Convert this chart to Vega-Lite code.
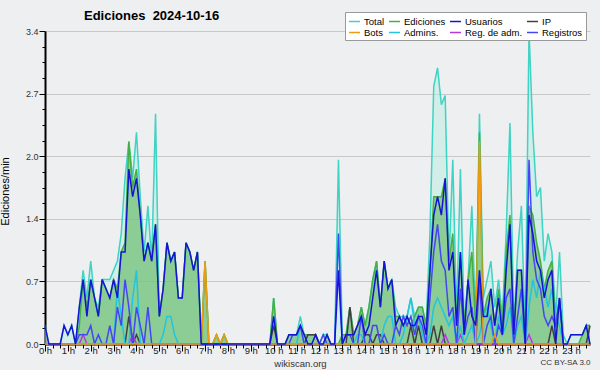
{
"$schema":"https://vega.github.io/schema/vega-lite/v6.json",
"width":545,"height":313,
"autosize":{"type":"none"},
"padding":{"left":45,"top":31,"right":10,"bottom":26},
"background":"#eeeff1",
"config":{"view":{"stroke":null},"font":"Liberation Sans"},
"title":{"text":"Ediciones\u00a0\u00a02024-10-16","anchor":"start","dx":85,"offset":-11,"fontSize":13,"fontWeight":"bold","color":"#000","font":"Liberation Sans"},
"data":{"values":[
{"m":0,"T":0.2,"E":0,"U":0.2,"R":0,"A":0,"I":0,"B":0,"M":0},
{"m":10,"T":0,"E":0,"U":0,"R":0,"A":0,"I":0,"B":0,"M":0},
{"m":20,"T":0,"E":0,"U":0,"R":0,"A":0,"I":0,"B":0,"M":0},
{"m":30,"T":0,"E":0,"U":0,"R":0,"A":0,"I":0,"B":0,"M":0},
{"m":40,"T":0,"E":0,"U":0,"R":0,"A":0,"I":0,"B":0,"M":0},
{"m":50,"T":0.2,"E":0,"U":0.2,"R":0,"A":0,"I":0,"B":0,"M":0},
{"m":60,"T":0.1,"E":0,"U":0.1,"R":0,"A":0,"I":0,"B":0,"M":0},
{"m":70,"T":0.2,"E":0,"U":0.2,"R":0,"A":0,"I":0,"B":0,"M":0},
{"m":80,"T":0,"E":0,"U":0,"R":0,"A":0,"I":0,"B":0,"M":0},
{"m":90,"T":0.4,"E":0.2,"U":0.4,"R":0.1,"A":0,"I":0,"B":0,"M":0},
{"m":100,"T":0.8,"E":0.7,"U":0.7,"R":0.1,"A":0,"I":0,"B":0,"M":0.1},
{"m":110,"T":0.5,"E":0.4,"U":0.3,"R":0.1,"A":0,"I":0,"B":0,"M":0},
{"m":120,"T":0.9,"E":0.7,"U":0.7,"R":0.2,"A":0,"I":0,"B":0,"M":0},
{"m":130,"T":0.5,"E":0.5,"U":0.5,"R":0,"A":0,"I":0,"B":0,"M":0},
{"m":140,"T":0.4,"E":0.3,"U":0.3,"R":0.1,"A":0,"I":0,"B":0,"M":0},
{"m":150,"T":0.7,"E":0.7,"U":0.7,"R":0,"A":0,"I":0,"B":0,"M":0},
{"m":160,"T":0.7,"E":0.6,"U":0.6,"R":0,"A":0,"I":0,"B":0,"M":0},
{"m":170,"T":0.7,"E":0.5,"U":0.5,"R":0.2,"A":0,"I":0,"B":0,"M":0},
{"m":180,"T":0.8,"E":0.7,"U":0.7,"R":0,"A":0,"I":0,"B":0,"M":0},
{"m":190,"T":0.9,"E":0.6,"U":0.5,"R":0.4,"A":0.6,"I":0,"B":0,"M":0},
{"m":200,"T":1.2,"E":1.0,"U":1.0,"R":0.2,"A":0.3,"I":0,"B":0,"M":0},
{"m":210,"T":1.8,"E":1.1,"U":1.0,"R":0.7,"A":0,"I":0,"B":0,"M":0},
{"m":220,"T":2.2,"E":2.2,"U":1.9,"R":0.4,"A":0,"I":0.3,"B":0,"M":0},
{"m":230,"T":1.8,"E":1.7,"U":1.6,"R":0,"A":0.5,"I":0,"B":0,"M":0.1},
{"m":240,"T":2.3,"E":1.9,"U":1.8,"R":0.4,"A":0.8,"I":0.1,"B":0,"M":0},
{"m":250,"T":1.6,"E":1.4,"U":1.4,"R":0.2,"A":0,"I":0,"B":0,"M":0},
{"m":260,"T":1.0,"E":0.9,"U":0.9,"R":0,"A":0,"I":0,"B":0,"M":0},
{"m":270,"T":1.5,"E":1.1,"U":1.1,"R":0.4,"A":0,"I":0,"B":0,"M":0},
{"m":280,"T":0.9,"E":0.9,"U":0.9,"R":0,"A":0,"I":0,"B":0,"M":0},
{"m":290,"T":2.5,"E":1.3,"U":1.3,"R":0,"A":0,"I":0,"B":0,"M":0},
{"m":300,"T":0.3,"E":0.3,"U":0.3,"R":0,"A":0,"I":0,"B":0,"M":0},
{"m":310,"T":0.6,"E":0.6,"U":0.6,"R":0,"A":0.1,"I":0,"B":0,"M":0},
{"m":320,"T":1.1,"E":1.1,"U":1.1,"R":0,"A":0.3,"I":0,"B":0,"M":0},
{"m":330,"T":0.9,"E":0.9,"U":0.9,"R":0,"A":0.3,"I":0,"B":0,"M":0},
{"m":340,"T":1.0,"E":1.0,"U":1.0,"R":0,"A":0.1,"I":0,"B":0,"M":0},
{"m":350,"T":0.5,"E":0.5,"U":0.5,"R":0,"A":0,"I":0,"B":0,"M":0},
{"m":360,"T":0.5,"E":0.5,"U":0.5,"R":0,"A":0,"I":0,"B":0,"M":0},
{"m":370,"T":1.1,"E":1.1,"U":1.1,"R":0,"A":0,"I":0,"B":0,"M":0},
{"m":380,"T":1.0,"E":1.0,"U":1.0,"R":0,"A":0,"I":0,"B":0,"M":0},
{"m":390,"T":0.8,"E":0.8,"U":0.8,"R":0,"A":0,"I":0,"B":0,"M":0},
{"m":400,"T":1.0,"E":1.0,"U":1.0,"R":0,"A":0,"I":0,"B":0,"M":0},
{"m":410,"T":0,"E":0,"U":0,"R":0,"A":0,"I":0,"B":0,"M":0},
{"m":420,"T":0.9,"E":0.9,"U":0,"R":0,"A":0,"I":0,"B":0.9,"M":0},
{"m":430,"T":0,"E":0,"U":0,"R":0,"A":0,"I":0,"B":0,"M":0},
{"m":440,"T":0,"E":0,"U":0,"R":0,"A":0,"I":0,"B":0,"M":0},
{"m":450,"T":0.1,"E":0.1,"U":0,"R":0,"A":0,"I":0,"B":0.1,"M":0},
{"m":460,"T":0,"E":0,"U":0,"R":0,"A":0,"I":0,"B":0,"M":0},
{"m":470,"T":0.1,"E":0.1,"U":0,"R":0,"A":0,"I":0,"B":0.1,"M":0},
{"m":480,"T":0,"E":0,"U":0,"R":0,"A":0,"I":0,"B":0,"M":0},
{"m":490,"T":0,"E":0,"U":0,"R":0,"A":0,"I":0,"B":0,"M":0},
{"m":500,"T":0,"E":0,"U":0,"R":0,"A":0,"I":0,"B":0,"M":0},
{"m":510,"T":0,"E":0,"U":0,"R":0,"A":0,"I":0,"B":0,"M":0},
{"m":520,"T":0,"E":0,"U":0,"R":0,"A":0,"I":0,"B":0,"M":0},
{"m":530,"T":0,"E":0,"U":0,"R":0,"A":0,"I":0,"B":0,"M":0},
{"m":540,"T":0,"E":0,"U":0,"R":0,"A":0,"I":0,"B":0,"M":0},
{"m":550,"T":0,"E":0,"U":0,"R":0,"A":0,"I":0,"B":0,"M":0},
{"m":560,"T":0,"E":0,"U":0,"R":0,"A":0,"I":0,"B":0,"M":0},
{"m":570,"T":0,"E":0,"U":0,"R":0,"A":0,"I":0,"B":0,"M":0},
{"m":580,"T":0,"E":0,"U":0,"R":0,"A":0,"I":0,"B":0,"M":0},
{"m":590,"T":0,"E":0,"U":0,"R":0,"A":0,"I":0,"B":0,"M":0},
{"m":600,"T":0.5,"E":0.5,"U":0.3,"R":0,"A":0,"I":0.2,"B":0,"M":0},
{"m":610,"T":0,"E":0,"U":0,"R":0,"A":0,"I":0,"B":0,"M":0},
{"m":620,"T":0,"E":0,"U":0,"R":0,"A":0,"I":0,"B":0,"M":0},
{"m":630,"T":0,"E":0,"U":0,"R":0,"A":0,"I":0,"B":0,"M":0},
{"m":640,"T":0.1,"E":0.1,"U":0.1,"R":0,"A":0,"I":0,"B":0,"M":0},
{"m":650,"T":0.1,"E":0.1,"U":0.1,"R":0.1,"A":0,"I":0,"B":0,"M":0},
{"m":660,"T":0.1,"E":0.1,"U":0.1,"R":0.1,"A":0,"I":0,"B":0,"M":0},
{"m":670,"T":0.3,"E":0.2,"U":0.2,"R":0.2,"A":0.2,"I":0,"B":0,"M":0},
{"m":680,"T":0.1,"E":0.1,"U":0.1,"R":0,"A":0,"I":0,"B":0,"M":0},
{"m":690,"T":0.1,"E":0.1,"U":0,"R":0,"A":0,"I":0.1,"B":0,"M":0},
{"m":700,"T":0.1,"E":0.1,"U":0,"R":0,"A":0,"I":0.1,"B":0,"M":0},
{"m":710,"T":0.1,"E":0.1,"U":0.1,"R":0,"A":0,"I":0.1,"B":0,"M":0},
{"m":720,"T":0,"E":0,"U":0,"R":0,"A":0,"I":0,"B":0,"M":0},
{"m":730,"T":0.1,"E":0,"U":0,"R":0.1,"A":0,"I":0,"B":0,"M":0},
{"m":740,"T":0.1,"E":0.1,"U":0.1,"R":0,"A":0,"I":0,"B":0,"M":0},
{"m":750,"T":0,"E":0,"U":0,"R":0,"A":0,"I":0,"B":0,"M":0},
{"m":760,"T":0,"E":0,"U":0,"R":0,"A":0,"I":0,"B":0,"M":0},
{"m":770,"T":2.0,"E":0,"U":0.8,"R":1.2,"A":0,"I":0,"B":0,"M":0},
{"m":780,"T":0.1,"E":0.1,"U":0,"R":0,"A":0,"I":0,"B":0,"M":0},
{"m":790,"T":0.1,"E":0.1,"U":0.1,"R":0.1,"A":0,"I":0,"B":0,"M":0},
{"m":800,"T":0.4,"E":0.4,"U":0.1,"R":0.1,"A":0,"I":0.4,"B":0,"M":0},
{"m":810,"T":0.1,"E":0.1,"U":0.1,"R":0,"A":0,"I":0,"B":0,"M":0},
{"m":820,"T":0.2,"E":0.2,"U":0.2,"R":0,"A":0.1,"I":0,"B":0,"M":0},
{"m":830,"T":0.4,"E":0.4,"U":0.3,"R":0.3,"A":0.1,"I":0,"B":0,"M":0},
{"m":840,"T":0.2,"E":0.2,"U":0.1,"R":0,"A":0,"I":0.1,"B":0,"M":0},
{"m":850,"T":0.4,"E":0.4,"U":0.2,"R":0,"A":0,"I":0.1,"B":0,"M":0},
{"m":860,"T":0.7,"E":0.7,"U":0.5,"R":0.2,"A":0,"I":0,"B":0,"M":0},
{"m":870,"T":0.9,"E":0.9,"U":0.8,"R":0.2,"A":0,"I":0.1,"B":0,"M":0},
{"m":880,"T":0.4,"E":0.4,"U":0.4,"R":0,"A":0,"I":0.1,"B":0,"M":0},
{"m":890,"T":0.9,"E":0.9,"U":0.9,"R":0.1,"A":0.2,"I":0,"B":0,"M":0},
{"m":900,"T":0.6,"E":0.6,"U":0.6,"R":0,"A":0.3,"I":0,"B":0,"M":0},
{"m":910,"T":0.7,"E":0.7,"U":0.7,"R":0,"A":0.3,"I":0,"B":0,"M":0},
{"m":920,"T":0.4,"E":0.3,"U":0.2,"R":0.2,"A":0,"I":0,"B":0,"M":0},
{"m":930,"T":0.3,"E":0.3,"U":0.3,"R":0.1,"A":0,"I":0,"B":0,"M":0},
{"m":940,"T":0.3,"E":0.2,"U":0.2,"R":0.3,"A":0.1,"I":0,"B":0,"M":0},
{"m":950,"T":0.3,"E":0.3,"U":0.3,"R":0.2,"A":0.3,"I":0,"B":0,"M":0},
{"m":960,"T":0.5,"E":0.2,"U":0.2,"R":0.3,"A":0.5,"I":0.2,"B":0,"M":0},
{"m":970,"T":0.3,"E":0.3,"U":0.2,"R":0.1,"A":0.2,"I":0,"B":0,"M":0},
{"m":980,"T":0.4,"E":0.4,"U":0.3,"R":0.3,"A":0.3,"I":0.2,"B":0,"M":0},
{"m":990,"T":0.4,"E":0.4,"U":0.3,"R":0.2,"A":0.1,"I":0,"B":0,"M":0},
{"m":1000,"T":0.2,"E":0.2,"U":0.1,"R":0,"A":0,"I":0,"B":0,"M":0},
{"m":1010,"T":1.2,"E":0.8,"U":0.8,"R":0.5,"A":0.1,"I":0,"B":0,"M":0},
{"m":1020,"T":2.8,"E":1.6,"U":1.4,"R":1.0,"A":0.4,"I":0.2,"B":0,"M":0},
{"m":1030,"T":3.0,"E":1.6,"U":1.6,"R":1.3,"A":0.5,"I":0,"B":0,"M":0},
{"m":1040,"T":2.6,"E":1.6,"U":1.4,"R":0.9,"A":0.4,"I":0.2,"B":0,"M":0},
{"m":1050,"T":2.7,"E":1.8,"U":1.8,"R":0.8,"A":0.3,"I":0,"B":0,"M":0.1},
{"m":1060,"T":0.9,"E":0.9,"U":0.8,"R":0.3,"A":0.2,"I":0,"B":0,"M":0},
{"m":1070,"T":2.0,"E":1.2,"U":1.0,"R":0.4,"A":0.3,"I":0,"B":0,"M":0},
{"m":1080,"T":0.3,"E":0.2,"U":0.2,"R":0,"A":0,"I":0,"B":0,"M":0},
{"m":1090,"T":1.9,"E":1.0,"U":1.0,"R":0.6,"A":0.2,"I":0,"B":0,"M":0.1},
{"m":1100,"T":0.2,"E":0.2,"U":0.1,"R":0.1,"A":0,"I":0,"B":0,"M":0},
{"m":1110,"T":0.7,"E":0.7,"U":0.7,"R":0.3,"A":0.1,"I":0,"B":0,"M":0},
{"m":1120,"T":1.5,"E":1.0,"U":0.3,"R":0.4,"A":0.2,"I":0,"B":0,"M":0},
{"m":1130,"T":0.2,"E":0.2,"U":0.2,"R":0,"A":0,"I":0,"B":0,"M":0},
{"m":1140,"T":2.5,"E":2.3,"U":0.8,"R":0.7,"A":0.1,"I":0,"B":2.2,"M":0},
{"m":1150,"T":0.5,"E":0.3,"U":0.3,"R":0,"A":0.3,"I":0,"B":0,"M":0},
{"m":1160,"T":0.7,"E":0.5,"U":0.3,"R":0.2,"A":0.4,"I":0,"B":0,"M":0},
{"m":1170,"T":0.9,"E":0.6,"U":0.6,"R":0.3,"A":0.2,"I":0,"B":0,"M":0},
{"m":1180,"T":0.4,"E":0.2,"U":0.2,"R":0,"A":0,"I":0,"B":0.1,"M":0},
{"m":1190,"T":0.7,"E":0.6,"U":0.5,"R":0.2,"A":0.3,"I":0,"B":0,"M":0},
{"m":1200,"T":0.3,"E":0.2,"U":0.1,"R":0.1,"A":0.1,"I":0,"B":0,"M":0},
{"m":1210,"T":1.2,"E":1.0,"U":0.8,"R":0.5,"A":0.2,"I":0,"B":0,"M":0},
{"m":1220,"T":2.4,"E":1.4,"U":1.3,"R":0.6,"A":0.4,"I":0,"B":0,"M":0},
{"m":1230,"T":0.2,"E":0.1,"U":0.1,"R":0,"A":0,"I":0,"B":0,"M":0},
{"m":1240,"T":1.0,"E":0.8,"U":0.8,"R":0.3,"A":0.2,"I":0,"B":0,"M":0},
{"m":1250,"T":1.5,"E":0.8,"U":0.8,"R":0.6,"A":0.3,"I":0,"B":0,"M":0},
{"m":1260,"T":0.1,"E":0,"U":0,"R":0,"A":0,"I":0,"B":0,"M":0},
{"m":1270,"T":3.4,"E":1.5,"U":1.4,"R":2.0,"A":0.4,"I":0,"B":0,"M":0.1},
{"m":1280,"T":2.3,"E":1.4,"U":1.2,"R":1.0,"A":0.7,"I":0,"B":0,"M":0},
{"m":1290,"T":1.6,"E":1.1,"U":0.9,"R":0.7,"A":0.5,"I":0,"B":0,"M":0},
{"m":1300,"T":1.7,"E":0.9,"U":0.8,"R":0.6,"A":0.8,"I":0,"B":0,"M":0},
{"m":1310,"T":0.9,"E":0.6,"U":0.5,"R":0.3,"A":0.6,"I":0,"B":0,"M":0},
{"m":1320,"T":1.2,"E":0.8,"U":0.7,"R":0.2,"A":0.4,"I":0,"B":0,"M":0},
{"m":1330,"T":1.0,"E":0.9,"U":0.8,"R":0.3,"A":0.6,"I":0.2,"B":0,"M":0},
{"m":1340,"T":0.3,"E":0.2,"U":0,"R":0.2,"A":0.3,"I":0,"B":0,"M":0},
{"m":1350,"T":1.0,"E":0.5,"U":0.5,"R":0.5,"A":0.2,"I":0,"B":0,"M":0},
{"m":1360,"T":0.1,"E":0,"U":0,"R":0,"A":0,"I":0,"B":0,"M":0},
{"m":1370,"T":0,"E":0,"U":0,"R":0,"A":0,"I":0,"B":0,"M":0},
{"m":1380,"T":0.1,"E":0,"U":0.1,"R":0,"A":0,"I":0,"B":0,"M":0},
{"m":1390,"T":0.1,"E":0,"U":0.1,"R":0,"A":0,"I":0,"B":0,"M":0},
{"m":1400,"T":0.1,"E":0,"U":0.1,"R":0,"A":0,"I":0,"B":0,"M":0},
{"m":1410,"T":0.1,"E":0.1,"U":0.1,"R":0,"A":0,"I":0,"B":0,"M":0},
{"m":1420,"T":0.2,"E":0.2,"U":0.2,"R":0,"A":0,"I":0,"B":0,"M":0},
{"m":1430,"T":0.2,"E":0.2,"U":0,"R":0,"A":0,"I":0.2,"B":0,"M":0}
]},
"encoding":{
 "x":{"field":"m","type":"quantitative","scale":{"domain":[0,1430],"nice":false,"zero":false},
  "axis":{"values":[0,20,40,60,80,100,120,140,160,180,200,220,240,260,280,300,320,340,360,380,400,420,440,460,480,500,520,540,560,580,600,620,640,660,680,700,720,740,760,780,800,820,840,860,880,900,920,940,960,980,1000,1020,1040,1060,1080,1100,1120,1140,1160,1180,1200,1220,1240,1260,1280,1300,1320,1340,1360,1380,1400,1420],
   "labelExpr":"datum.value % 60 == 0 ? (datum.value/60) + ' h' : ''",
   "tickSize":{"condition":{"test":"datum.value % 60 == 0","value":7},"value":4},
   "tickColor":"#000","domainColor":"#000","domainWidth":2,"grid":false,
   "labelFontSize":9.5,"labelColor":"#222","labelPadding":-6,"labelFlush":false,"labelOverlap":false,
   "title":"wikiscan.org","titleFontSize":9.5,"titleFontWeight":"normal","titleColor":"#333","titleX":255,"titleY":14}}
},
"layer":[
 {"encoding":{
   "y":{"field":"v","type":"quantitative","scale":{"domain":[0,3.4],"nice":false},
    "axis":{"values":[0,0.17,0.34,0.51,0.68,0.85,1.02,1.19,1.36,1.53,1.7,1.87,2.04,2.21,2.38,2.55,2.72,2.89,3.06,3.23,3.4],
     "labelExpr":"abs(datum.value/0.68-round(datum.value/0.68))<0.01 ? format(datum.value,'.1f') : ''",
     "grid":true,"gridColor":"#c8c8c8",
     "gridOpacity":{"condition":{"test":"abs(datum.value/0.68-round(datum.value/0.68))<0.01 && datum.value>0","value":1},"value":0},
     "tickSize":{"condition":{"test":"abs(datum.value/0.68-round(datum.value/0.68))<0.01","value":6},"value":3},
     "tickColor":"#000","domainColor":"#000","domainWidth":2,
     "labelFontSize":9,"labelColor":"#333","labelPadding":1,"labelOverlap":false,
     "title":"Ediciones/min","titleFontSize":11,"titleFontWeight":"normal","titleColor":"#000","titleX":-35,"titleY":160}}},
  "layer":[
   {"transform":[{"fold":["T"],"as":["k","v"]}],
    "mark":{"type":"area","color":"#b8ece2","opacity":0.5}},
   {"transform":[{"fold":["E"],"as":["k","v"]}],
    "mark":{"type":"area","color":"#5cb85c","opacity":0.6}},
   {"transform":[{"fold":["T","E","I","M","A","R","B","U"],"as":["k","v"]}],
    "mark":{"type":"line"},
    "encoding":{
     "color":{"field":"k","type":"nominal",
      "scale":{"domain":["T","E","U","I","B","A","M","R"],"range":["#3ed3c3","#44b044","#1414d4","#404040","#f09a10","#22c4e0","#b43ae0","#4646f4"]},
      "legend":{"orient":"none","legendX":300,"legendY":-19,"columns":4,"direction":"horizontal","title":null,
       "fillColor":"#ffffff","strokeColor":"#999","padding":3,"symbolType":"stroke","symbolSize":121,"symbolStrokeWidth":1.5,
       "labelFontSize":9.5,"labelFont":"Liberation Sans","labelColor":"#000","labelOffset":3,"columnPadding":1,"rowPadding":0,
       "labelExpr":"{'T':'Total','E':'Ediciones','U':'Usuarios','I':'IP','B':'Bots','A':'Admins.','M':'Reg. de adm.','R':'Registros'}[datum.label]"}},
     "strokeWidth":{"field":"k","type":"nominal","scale":{"domain":["T","E","U","I","B","A","M","R"],"range":[1.5,1.5,2,1.3,1.5,1.3,1.3,1.5]},"legend":null}}}
  ]},
 {"transform":[{"fold":["T"],"as":["k","v"]}],
  "mark":{"type":"line","opacity":0},
  "encoding":{
   "y":{"field":"v","type":"quantitative",
    "axis":{"orient":"right","domain":false,"ticks":false,"labels":false,"grid":false,
     "title":"CC BY-SA 3.0","titleAngle":0,"titleX":0,"titleY":331,"titleAlign":"right","titleBaseline":"middle",
     "titleFontSize":8,"titleFontWeight":"normal","titleColor":"#333"}}}}
],
"resolve":{"axis":{"y":"independent"}}
}
